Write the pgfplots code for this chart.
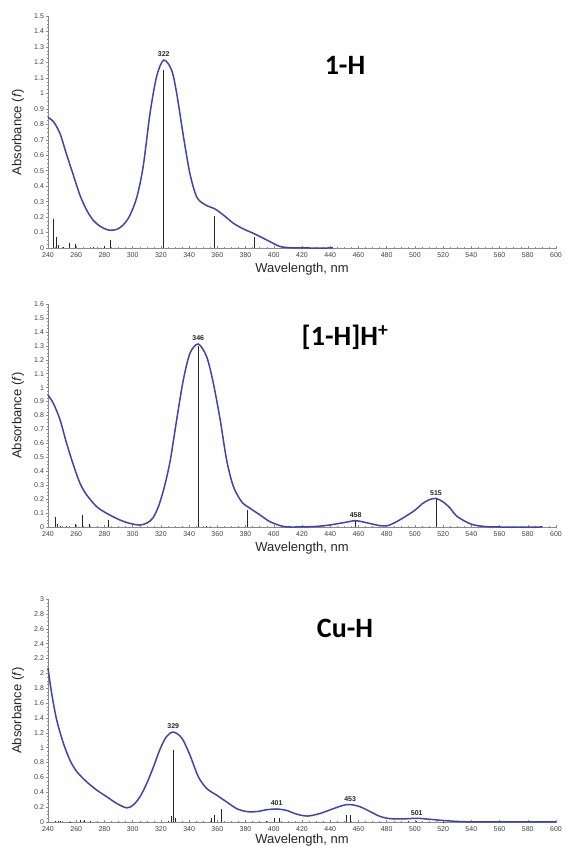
\documentclass[border=0pt]{standalone}
\usepackage{pgfplots}
\pgfplotsset{compat=1.18}
\usepackage{fontspec}
\setmainfont{Liberation Sans}
\newfontfamily\titlefont{Carlito}
\definecolor{specblue}{HTML}{3F45A8}
\definecolor{axisgray}{HTML}{8A8A8A}

\pgfplotsset{
  spec/.style={
    scale only axis, width=508pt, anchor=south west,
    xmin=240, xmax=600, xtick={240,260,...,600}, minor x tick num=3,
    ymin=0, minor y tick num=3,
    axis lines*=left, axis line style={axisgray, line width=0.7pt},
    tick style={axisgray, line width=0.4pt}, major tick length=3pt, minor tick length=2pt,
    tick align=center,
    /pgf/number format/assume math mode=true,
    ticklabel style={font=\fontsize{7}{8}\selectfont, text=black!75},
    yticklabel style={/pgf/number format/.cd, fixed, precision=1, /tikz/xshift=1pt},
    xticklabel style={/pgf/number format/.cd, fixed, 1000 sep={}},
    xlabel={Wavelength, nm}, ylabel={Absorbance (\textit{f})},
    label style={font=\fontsize{13}{14}\selectfont, text=black!85},
    xlabel style={at={(axis description cs:0.5,0)}, anchor=center, yshift=-21pt},
    ylabel style={at={(axis description cs:-0.059,0.5)}, anchor=center},
    clip=false,
  },
  curve/.style={specblue, line width=1.5pt, smooth, no markers},
  sticks/.style={ycomb, black!85, line width=0.6pt, no markers},
}
\tikzset{peak/.style={font=\bfseries\fontsize{7}{8}\selectfont, text=black!85, anchor=south, inner sep=1pt, yshift=2pt}}

\begin{document}
\begin{tikzpicture}
\useasboundingbox (0,0) rectangle (566pt,847pt);

% ---- 1-H
\begin{axis}[spec, at={(48pt,599pt)}, height=232pt, ymax=1.5, ytick distance=0.1]
  \addplot[sticks] coordinates {(243.5,0.19) (246,0.07) (247,0.02) (251,0.008) (255,0.03) (259.5,0.025)
    (272,0.005) (280,0.01) (284,0.05) (322,1.15) (358,0.21) (386,0.07)};
  \addplot[curve] coordinates {(240,0.845) (244,0.815) (248.5,0.74) (253,0.61) (258,0.47) (262.7,0.34)
    (267.4,0.245) (272,0.18) (277,0.14) (283,0.116) (288.7,0.12) (293.4,0.15) (298,0.21) (303,0.33)
    (307.5,0.53) (312.3,0.87) (317,1.11) (322,1.215) (327.6,1.15) (331.2,1.0) (336,0.72) (340.6,0.48)
    (345.4,0.33) (351.3,0.28) (358.4,0.252) (364.3,0.213) (371.4,0.16) (378.5,0.123) (386.7,0.09)
    (395,0.052) (404.4,0.01) (414,0.001) (424,0) (442,0)};
  \node[peak] at (axis cs:322,1.215) {322};
\end{axis}
\node[font=\titlefont\bfseries\fontsize{28}{30}\selectfont] at (345pt,782pt) {1-H};

% ---- [1-H]H+
\begin{axis}[spec, at={(48pt,320pt)}, height=223pt, ymax=1.6, ytick distance=0.1]
  \addplot[sticks] coordinates {(245,0.074) (246.5,0.02) (249,0.01) (253,0.005) (259,0.025) (264,0.085)
    (269.6,0.02) (283,0.05) (346.5,1.30) (352.5,0.01) (381.5,0.12) (458,0.04) (515,0.20)};
  \addplot[curve] coordinates {(240,0.947) (243.8,0.887) (248.5,0.77) (253.2,0.60) (258,0.445)
    (262.7,0.313) (267.4,0.23) (274.5,0.146) (281.6,0.098) (291,0.05) (298,0.026) (305,0.014)
    (310,0.028) (314,0.06) (318,0.14) (322,0.27) (326.5,0.47) (331.2,0.77) (335.9,1.055)
    (340.6,1.246) (346.5,1.313) (352.5,1.22) (357.2,1.03) (362,0.77) (366.6,0.48) (371.4,0.29)
    (377.3,0.18) (383.2,0.134) (390.3,0.086) (397.3,0.038) (406.8,0.004) (416,0.0)
    (430,0.004) (440,0.015) (450,0.032) (458,0.045) (466,0.03) (474,0.012) (481,0.01) (490,0.055)
    (500,0.12) (505,0.165) (510,0.195) (515,0.205) (520,0.18) (525,0.135) (530,0.075) (540,0.02)
    (550,0.003) (560,0) (590,0)};
  \node[peak] at (axis cs:346.5,1.313) {346};
  \node[peak] at (axis cs:458,0.045) {458};
  \node[peak] at (axis cs:515,0.205) {515};
\end{axis}
\node[font=\titlefont\bfseries\fontsize{28}{30}\selectfont] at (345pt,510pt) {[1-H]H\textsuperscript{+}};

% ---- Cu-H
\begin{axis}[spec, at={(48pt,25pt)}, height=223pt, ymax=3, ytick distance=0.2,
    xlabel style={yshift=3pt}]
  \addplot[sticks] coordinates {(245,0.02) (247,0.02) (249,0.01) (256,0.005) (263,0.03) (266,0.03)
    (270,0.01) (325,0.02) (327.5,0.08) (328.8,0.97) (330,0.05) (355.6,0.06) (357.9,0.09) (362.6,0.175)
    (395,0.01) (400.2,0.06) (403.7,0.06) (451.7,0.094) (454.5,0.094) (495,0.01) (501,0.01) (520,0.005)};
  \addplot[curve] coordinates {(240,2.07) (242.6,1.73) (246.2,1.37) (250.9,1.06) (255.6,0.83)
    (260.3,0.68) (267.4,0.54) (274.5,0.43) (281.6,0.34) (288.7,0.25) (295.8,0.19) (300.5,0.23)
    (305.2,0.34) (310,0.52) (314.7,0.74) (319.4,0.98) (324,1.15) (328.8,1.21) (334.8,1.13)
    (340.6,0.90) (346.5,0.61) (352.5,0.45) (359.6,0.36) (366.6,0.27) (373.7,0.18) (380.8,0.14)
    (387.9,0.14) (395,0.165) (402,0.175) (409.2,0.155) (416.3,0.105) (424,0.08) (432.8,0.115)
    (442.3,0.18) (449.4,0.225) (454.1,0.235) (461.2,0.205) (468.3,0.14) (475.3,0.075) (482.4,0.045)
    (491.9,0.042) (501.3,0.05) (510.8,0.036) (520.2,0.02) (532,0.006) (545,0.001) (600,0)};
  \node[peak] at (axis cs:328.8,1.21) {329};
  \node[peak] at (axis cs:402,0.175) {401};
  \node[peak] at (axis cs:454.1,0.235) {453};
  \node[peak] at (axis cs:501.3,0.05) {501};
\end{axis}
\node[font=\titlefont\bfseries\fontsize{28}{30}\selectfont] at (345pt,219pt) {Cu-H};
\end{tikzpicture}
\end{document}
